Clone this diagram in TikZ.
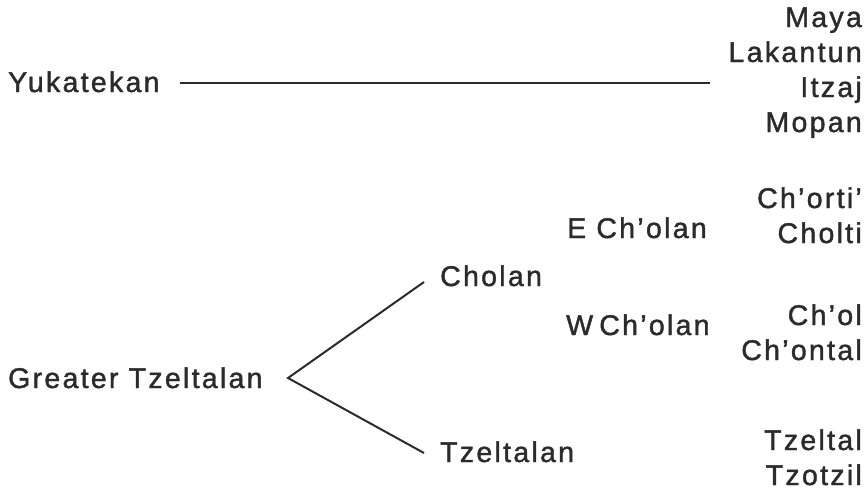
\documentclass[tikz,border=0pt]{standalone}
\usepackage{fontspec}
\setmainfont{Liberation Sans}[LetterSpace=8, FakeBold=1.4]
\definecolor{ink}{HTML}{2B2B2B}
\begin{document}
\begin{tikzpicture}[x=1pt,y=-1pt,
  lbl/.style={inner sep=0pt, text=ink, font=\fontsize{28.5}{32}\selectfont},
  leftlbl/.style={lbl, anchor=base west},
  rightlbl/.style={lbl, anchor=base east},
  link/.style={draw=ink, line width=2pt}]
\useasboundingbox (0,0) rectangle (868,491);

% Yukatekan branch
\node[leftlbl]  (yuk)  at (8,92)    {Yukatekan};
\node[rightlbl] (maya) at (862,27)  {Maya};
\node[rightlbl] (lak)  at (862,62)  {Lakantun};
\node[rightlbl] (itz)  at (862,97)  {Itzaj};
\node[rightlbl] (mop)  at (862,132) {Mopan};
\coordinate (yukstart) at (180,83);
\coordinate (yukend)   at (710,83);
\draw[link] (yukstart) -- (yukend);

% Greater Tzeltalan branch
\node[leftlbl]  (gt)    at (8,388)   {Greater Tzeltalan};
\node[leftlbl]  (chl)   at (440,286) {Cholan};
\node[leftlbl]  (tzl)   at (440,462) {Tzeltalan};
\node[leftlbl]  (ech)   at (567,238) {E Ch’olan};
\node[leftlbl]  (wch)   at (566,335) {W\kern-4pt\ Ch’olan};
\node[rightlbl] (cho)   at (862,208) {Ch’orti’};
\node[rightlbl] (clt)   at (862,243) {Cholti};
\node[rightlbl] (chol)  at (862,325) {Ch’ol};
\node[rightlbl] (chon)  at (862,360) {Ch’ontal};
\node[rightlbl] (tzel)  at (862,450) {Tzeltal};
\node[rightlbl] (tzot)  at (862,485) {Tzotzil};

\coordinate (fork)   at (288,378);
\coordinate (chlend) at (424,282);
\coordinate (tzlend) at (424,453);
\draw[link, line join=miter] (chlend) -- (fork) -- (tzlend);
\end{tikzpicture}
\end{document}
